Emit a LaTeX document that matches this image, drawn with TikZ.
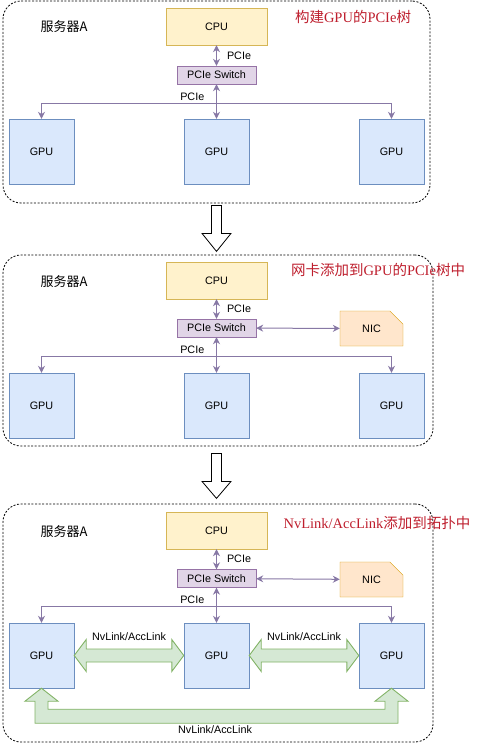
\documentclass[tikz,border=0pt]{standalone}
\usepackage{fontspec}
\setmainfont{Liberation Sans}
\newfontfamily\cjk{Noto Sans CJK SC}
\newfontfamily\titlerm{Liberation Serif}
\usepackage{tikz}
\usetikzlibrary{arrows.meta,positioning,shapes.misc,calc}

\definecolor{cpufill}{HTML}{FFF2CC}
\definecolor{cpuline}{HTML}{D6B656}
\definecolor{swfill}{HTML}{E1D5E7}
\definecolor{swline}{HTML}{9673A6}
\definecolor{gpufill}{HTML}{DAE8FC}
\definecolor{gpuline}{HTML}{6C8EBF}
\definecolor{nicfill}{HTML}{FFE6CC}
\definecolor{nicline}{HTML}{D79B00}
\definecolor{nvfill}{HTML}{D5E8D4}
\definecolor{nvline}{HTML}{82B366}
\definecolor{linkc}{RGB}{135,120,165}
\definecolor{titlered}{RGB}{190,30,45}

\begin{document}
\begin{tikzpicture}[
x=1pt, y=-1pt,
panel/.style={rectangle, draw, dash pattern=on 2pt off 1.6pt, line width=0.8pt, rounded corners=18pt},
cpubox/.style={rectangle, draw=cpuline, fill=cpufill, minimum width=101pt, minimum height=37pt, inner sep=0pt, font=\fontsize{10.8}{12}\selectfont},
swbox/.style={rectangle, draw=swline, fill=swfill, minimum width=79pt, minimum height=18pt, inner sep=0pt, font=\fontsize{10.8}{12}\selectfont},
gpubox/.style={rectangle, draw=gpuline, fill=gpufill, minimum size=65pt, inner sep=0pt, font=\fontsize{10.8}{12}\selectfont},
nicbox/.style={chamfered rectangle, chamfered rectangle corners=north east, chamfered rectangle xsep=16pt, chamfered rectangle ysep=16pt, draw=nicline, fill=nicfill, minimum width=63pt, minimum height=35pt, inner sep=0pt, font=\fontsize{10.8}{12}\selectfont},
srv/.style={font=\cjk\fontsize{13}{15}\selectfont},
title/.style={text=titlered, font=\titlerm\fontsize{14.5}{16}\selectfont},
lbl/.style={font=\fontsize{10.8}{12}\selectfont, inner sep=1pt},
link/.style={draw=linkc, line width=1pt, -{Stealth[length=7pt,width=7pt]}},
dlink/.style={draw=linkc, line width=1pt, {Stealth[length=7pt,width=7pt]}-{Stealth[length=7pt,width=7pt]}},
nvlink/.style={draw=nvline, fill=nvfill, line width=0.9pt},
hollow/.style={draw, fill=white, line width=0.8pt}
]
\useasboundingbox (0,0) rectangle (480,744);

% panel 1: PCIe tree
\node[panel, minimum width=427pt, minimum height=202pt] (pnl1) at (216.5,102) {};
\node[srv] (srv1) at (64,27) {服务器A};
\node[title] (t1) at (353,17) {{\cjk 构建}GPU{\cjk 的}PCIe{\cjk 树}};
\node[cpubox] (cpu1) at (216.5,26.5) {CPU};
\node[swbox] (sw1) at (216.5,75) {PCIe Switch};
\node[gpubox] (g11) at (41.5,151.5) {GPU};
\node[gpubox] (g12) at (216.5,151.5) {GPU};
\node[gpubox] (g13) at (391.5,151.5) {GPU};
\coordinate (bus1) at (216.5,103);

\draw[dlink] (cpu1) -- (sw1) node[lbl, midway, right=9pt] {PCIe};
\draw[dlink] (sw1) -- (g12);
\draw[link] (bus1) -| (g11);
\draw[link] (bus1) -| (g13);
\node[lbl, above left=1pt and 11pt of bus1] (pl1) {PCIe};

\draw[hollow] ($(pnl1.south)+(-5,2)$) -- ++(10,0) -- ++(0,28) -- ++(9.5,0) -- ($(pnl1.south)+(0,48)$) -- ++(-14.5,-18) -- ++(9.5,0) -- cycle;

% panel 2: NIC added
\node[panel, minimum width=430pt, minimum height=191pt] (pnl2) at (218,350.5) {};
\node[srv] (srv2) at (64,282) {服务器A};
\node[title] (t2) at (378,270) {{\cjk 网卡添加到}GPU{\cjk 的}PCIe{\cjk 树中}};
\node[cpubox] (cpu2) at (216.5,280.5) {CPU};
\node[swbox] (sw2) at (216.5,328) {PCIe Switch};
\node[nicbox] (nic2) at (371.5,328.5) {NIC};
\node[gpubox] (g21) at (41.5,405.5) {GPU};
\node[gpubox] (g22) at (216.5,405.5) {GPU};
\node[gpubox] (g23) at (391.5,405.5) {GPU};
\coordinate (bus2) at (216.5,356);

\draw[dlink] (cpu2) -- (sw2) node[lbl, midway, right=9pt] {PCIe};
\draw[dlink] (sw2) -- (nic2);
\draw[dlink] (sw2) -- (g22);
\draw[link] (bus2) -| (g21);
\draw[link] (bus2) -| (g23);
\node[lbl, above left=1pt and 11pt of bus2] (pl2) {PCIe};

\draw[hollow] ($(pnl2.south)+(-6.5,7)$) -- ++(10,0) -- ++(0,28) -- ++(9.5,0) -- ($(pnl2.south)+(-1.5,52)$) -- ++(-14.5,-17) -- ++(9.5,0) -- cycle;

% panel 3: NvLink/AccLink added
\node[panel, minimum width=430pt, minimum height=238pt] (pnl3) at (218,623) {};
\node[srv] (srv3) at (64,532) {服务器A};
\node[title] (t3) at (377,523) {NvLink/AccLink{\cjk 添加到拓扑中}};
\node[cpubox] (cpu3) at (216.5,530.5) {CPU};
\node[swbox] (sw3) at (216.5,578.5) {PCIe Switch};
\node[nicbox] (nic3) at (371.5,579.5) {NIC};
\node[gpubox] (g31) at (41.5,655.5) {GPU};
\node[gpubox] (g32) at (216.5,655.5) {GPU};
\node[gpubox] (g33) at (391.5,655.5) {GPU};
\coordinate (bus3) at (216.5,606);

\draw[dlink] (cpu3) -- (sw3) node[lbl, midway, right=9pt] {PCIe};
\draw[dlink] (sw3) -- (nic3);
\draw[dlink] (sw3) -- (g32);
\draw[link] (bus3) -| (g31);
\draw[link] (bus3) -| (g33);
\node[lbl, above left=1pt and 11pt of bus3] (pl3) {PCIe};

\draw[nvlink] (g31.east) -- ++(12,-16) -- ++(0,9.5) -- ($(g32.west)+(-12,-6.5)$) -- ++(0,-9.5) -- (g32.west) -- ++(-12,16) -- ++(0,-9.5) -- ($(g31.east)+(12,6.5)$) -- ++(0,9.5) -- cycle;
\draw[nvlink] (g32.east) -- ++(12,-16) -- ++(0,9.5) -- ($(g33.west)+(-12,-6.5)$) -- ++(0,-9.5) -- (g33.west) -- ++(-12,16) -- ++(0,-9.5) -- ($(g32.east)+(12,6.5)$) -- ++(0,9.5) -- cycle;
\draw[nvlink] (g31.south) -- ++(16.5,13) -- ++(-10,0) -- ++(0,8) -- ($(g33.south)+(-6.5,21)$) -- ++(0,-8) -- ++(-10,0) -- (g33.south) -- ++(16.5,13) -- ++(-10,0) -- ++(0,22) -- ($(g31.south)+(-6.5,35)$) -- ++(0,-22) -- ++(-10,0) -- cycle;
\node[lbl] (nv1) at ($(g31.east)!0.5!(g32.west)+(0,-19)$) {NvLink/AccLink};
\node[lbl] (nv2) at ($(g32.east)!0.5!(g33.west)+(0,-19)$) {NvLink/AccLink};
\node[lbl] (nv3) at ($(g31.south)!0.5!(g33.south)+(-1.5,41)$) {NvLink/AccLink};
\end{tikzpicture}
\end{document}
